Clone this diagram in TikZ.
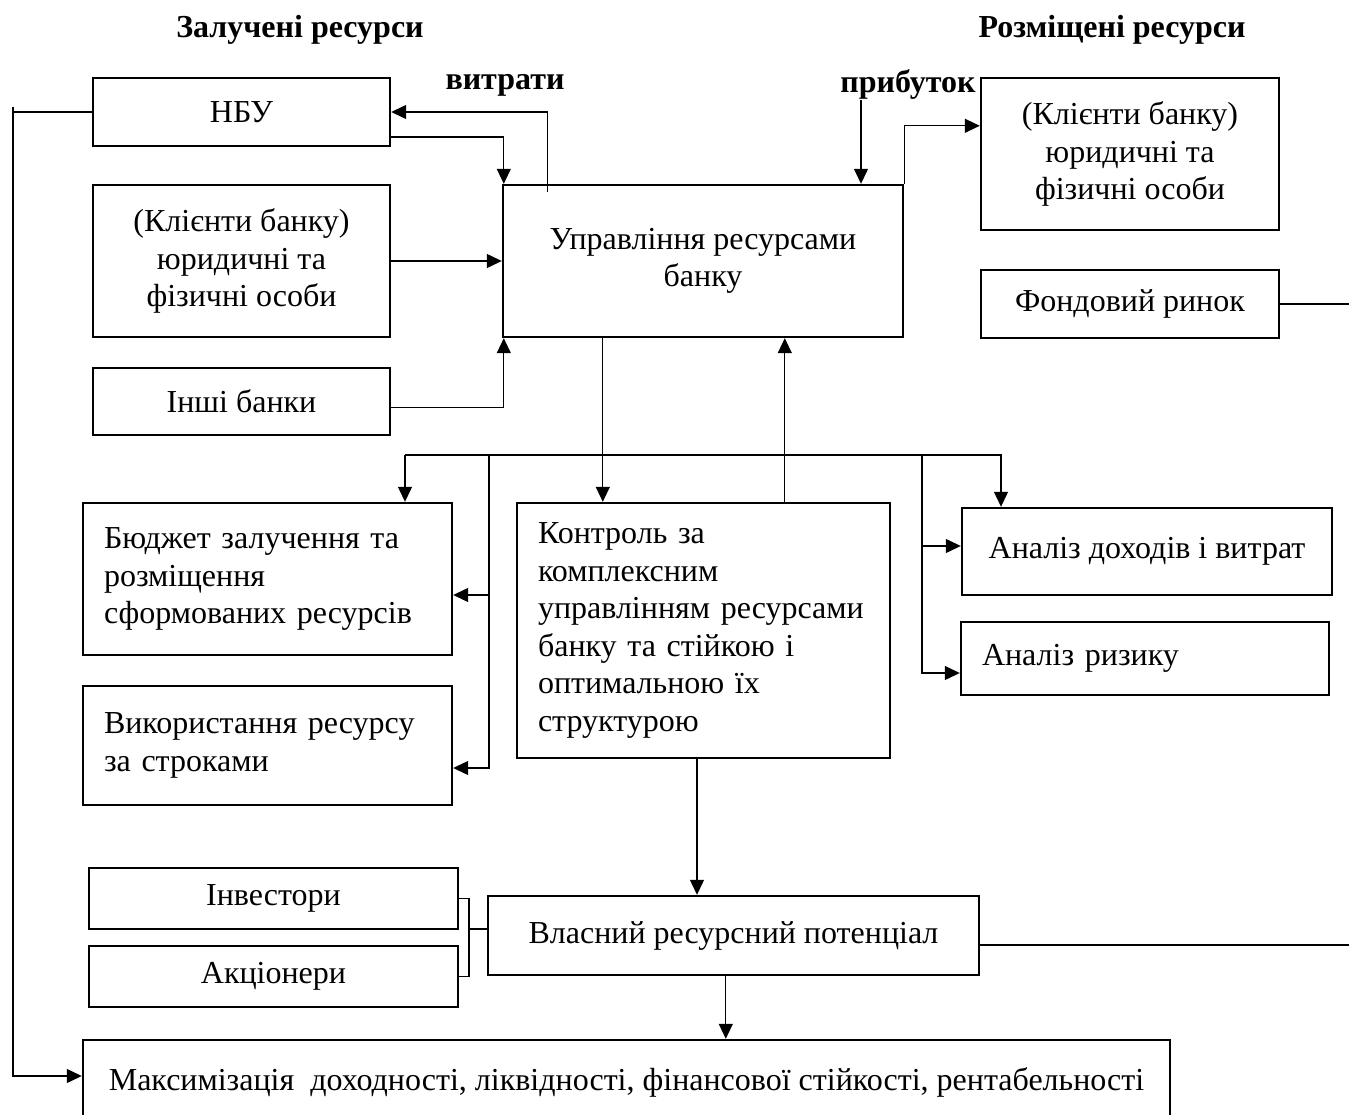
\documentclass[tikz,border=0pt]{standalone}
\usepackage{fontspec}
\setmainfont{Liberation Serif}
\usetikzlibrary{arrows.meta,calc}
\begin{document}
\begin{tikzpicture}[x=1pt,y=-1pt,
  every node/.style={font=\fontsize{32}{37.5}\selectfont},
  box/.style={draw,line width=2.4pt,inner sep=0pt,align=center},
  lbox/.style={draw,line width=2.4pt,inner xsep=21pt,inner ysep=0pt,align=left},
  conn/.style={line width=1.2pt},
  arr/.style={conn,-{Triangle[length=15pt,width=14pt]}},
  title/.style={font=\fontsize{32}{37.5}\selectfont\bfseries}]
\useasboundingbox (0,0) rectangle (1349,1115);
\clip (0,0) rectangle (1349,1115);

% headings
\node[title] (hl) at (300,30) {Залучені ресурси};
\node[title] (hr) at (1112,30) {Розміщені ресурси};
\node[title] (vytr) at (505,85) {витрати};
\node[title] (pryb) at (908,85) {прибуток};

% boxes
\node[box,minimum width=400,minimum height=152] (upr) at (703,261) {Управління ресурсами\\банку};
\node[box,minimum width=297,minimum height=68] (nbu) at (241.5,112) {НБУ};
\node[box,minimum width=297,minimum height=152] (kl) at (241.5,261) {(Клієнти банку)\\юридичні та\\фізичні особи};
\node[box,minimum width=297,minimum height=67] (inshi) at (241.5,401.5) {Інші банки};
\node[box,minimum width=298,minimum height=152] (klr) at (1130,154) {(Клієнти банку)\\юридичні та\\фізичні особи};
\node[box,minimum width=298,minimum height=68] (fond) at (1130,304) {Фондовий ринок};
\node[lbox,text width=327,minimum height=152] (budget) at (267.5,579) {Бюджет залучення та\\розміщення\\сформованих ресурсів};
\node[lbox,text width=327,minimum height=119] (vykor) at (267.5,745.5) {Використання ресурсу\\за строками};
\node[lbox,text width=331,minimum height=255] (kontr) at (703.5,630.5) {Контроль за\\комплексним\\управлінням ресурсами\\банку та стійкою і\\оптимальною їх\\структурою};
\node[box,minimum width=370,minimum height=87] (dohod) at (1147,551.5) {Аналіз доходів і витрат};
\node[lbox,text width=326,minimum height=73] (ryzyk) at (1145,658.5) {Аналіз ризику};
\node[box,minimum width=369,minimum height=61] (invest) at (273.5,898.5) {Інвестори};
\node[box,minimum width=369,minimum height=61] (akts) at (273.5,976.5) {Акціонери};
\node[box,minimum width=491,minimum height=79] (vlasn) at (733.5,935.5) {Власний ресурсний потенціал};
\node[box,minimum width=1087,minimum height=84] (maks) at (626.5,1082) {Максимізація\ \ доходності, ліквідності, фінансової стійкості, рентабельності};

% inflows to the management box
\draw[arr] ($(upr.north west)+(46,8)$) |- (nbu.east);
\draw[arr] ($(nbu.east)+(0,25)$) -| ($(upr.north west)+(2,0)$);
\draw[arr] (kl.east) -- (kl.east -| upr.west);
\draw[arr] ($(inshi.east)+(0,6)$) -| ($(upr.south west)+(2,0)$);
\coordinate (pt) at (861,100);
\draw[arr] (pt) -- (pt |- upr.north);
\draw[arr] (upr.north east) |- ($(klr.north west)+(0,49)$);

% management <-> control
\coordinate (m1) at ($(upr.south west)+(101,0)$);
\coordinate (m2) at ($(upr.south west)+(283,0)$);
\draw[arr] (m1) -- (m1 |- kontr.north);
\draw[arr] (m2 |- kontr.north) -- (m2);

% distribution bus
\coordinate (b1) at (405,455);
\coordinate (b2) at (1001,455);
\draw[arr] (b1) -- (b1 |- budget.north);
\draw[arr] (b1) -- (b2) -- (b2 |- dohod.north);
\coordinate (v1) at (489,455);
\coordinate (v2) at (922,455);
\draw[arr] (v1) |- ($(vykor.east)+(0,22.5)$);
\draw[arr] (v1 |- 0,595) -- (budget.east |- 0,595);
\draw[arr] (v2) |- ($(ryzyk.west)+(0,14.5)$);
\draw[arr] (v2 |- 0,546) -- (dohod.west |- 0,546);

% control -> own potential -> maximisation
\coordinate (c1) at ($(kontr.south)+(-6.5,0)$);
\draw[arr] (c1) -- (c1 |- vlasn.north);
\coordinate (c2) at ($(vlasn.south west)+(239,0)$);
\draw[arr] (c2) -- (c2 |- maks.north);

% investors / shareholders bracket
\coordinate (br) at (469,929);
\draw[conn] (invest.east) -| (br |- akts.east) -- (akts.east);
\draw[conn] (br) -- (br -| vlasn.west);

% long return line on the left
\coordinate (lf) at (13,107);
\draw[conn] (lf) -- (lf |- nbu.west) -- (nbu.west);
\draw[arr] (lf |- nbu.west) -- (lf |- 0,1076) -- (maks.west |- 0,1076);

% lines leaving to the right
\coordinate (re1) at (1349,304);
\coordinate (re2) at (1349,945);
\draw[conn] (fond.east) -- (re1);
\draw[conn] (vlasn.east |- re2) -- (re2);
\end{tikzpicture}
\end{document}
